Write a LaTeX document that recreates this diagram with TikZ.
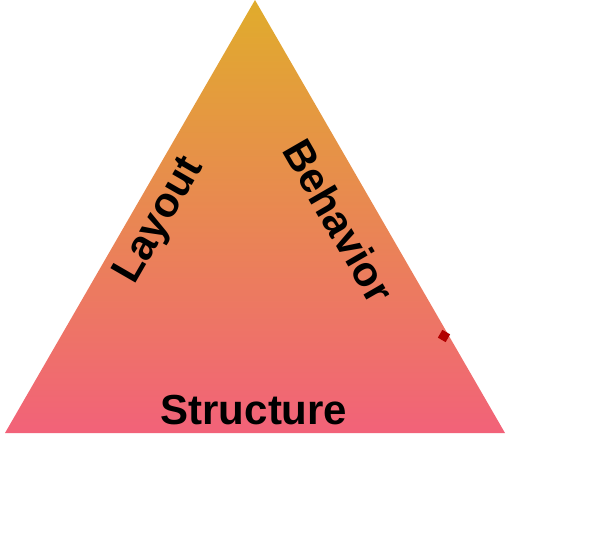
\documentclass[tikz,border=0pt]{standalone}
\usepackage{fontspec}
\setmainfont{Liberation Sans}
\begin{document}
\begin{tikzpicture}[x=1pt, y=-1pt,
        facet/.style={font=\fontsize{42}{46}\selectfont\bfseries, text=black, inner sep=0pt},
        marker/.style={fill=red!70!black, draw=none, minimum size=9pt, inner sep=0pt, rotate=-30}
    ]
        \path[use as bounding box] (0, 0) rectangle (614, 533);

        \coordinate (apex) at (255, 0);
        \coordinate (left) at (5, 433);
        \coordinate (right) at (505, 433);

        \definecolor{topgold}{HTML}{E0AC2C}
        \definecolor{basepink}{HTML}{F26279}
        \shade[top color=topgold, bottom color=basepink] (apex) -- (right) -- (left) -- cycle;

        \node[facet, rotate=60] (layout) at (160, 221) {Layout};
        \node[facet, rotate=-60] (behavior) at (339, 221) {Behavior};
        \node[facet] (structure) at (254, 410) {Structure};

        \node[marker] (tick) at (444, 336) {};
    \end{tikzpicture}
\end{document}
